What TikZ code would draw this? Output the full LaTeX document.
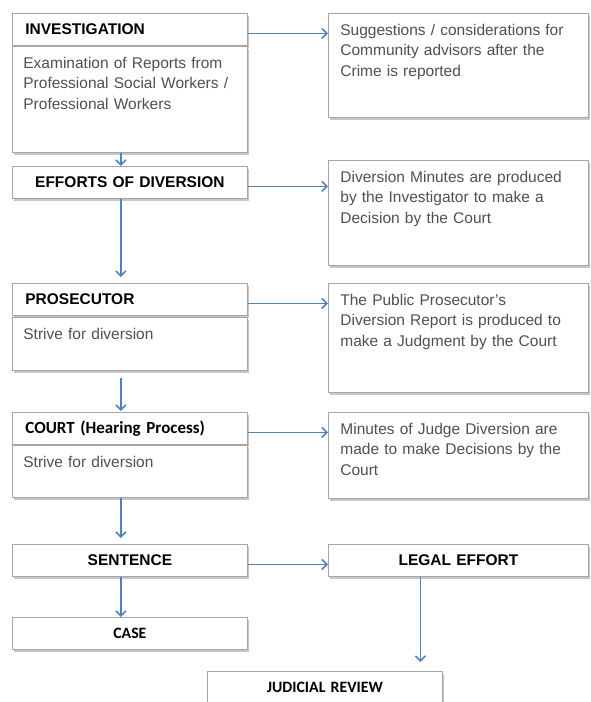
\documentclass[tikz,border=0pt]{standalone}
\usepackage{fontspec}
\setmainfont{Liberation Sans}
\newfontfamily\calibri{Carlito}
\usetikzlibrary{calc,shadows,arrows.meta}

\definecolor{flowblue}{HTML}{4F81BD}
\definecolor{boxgrey}{HTML}{A6A6A6}
\definecolor{textgrey}{HTML}{505050}

\begin{document}
\begin{tikzpicture}[x=1pt,y=-1pt,
    every node/.style={draw=boxgrey,fill=white,line width=0.8pt,anchor=north west,
      drop shadow={shadow xshift=2pt,shadow yshift=-2.5pt,opacity=0.45},
      font=\fontsize{15.5}{20.5}\selectfont},
    head/.style={text width=209pt,inner xsep=13pt,inner ysep=0pt,minimum height=32pt,
      align=left,font=\fontsize{15.5}{17}\selectfont\bfseries},
    headc/.style={head,align=center},
    smallhead/.style={headc,font=\fontsize{15.8}{17}\selectfont\calibri\bfseries},
    body/.style={text width=213pt,inner xsep=11pt,inner ysep=11pt,text height=11pt,
      text depth=#1,align=left,text=textgrey},
    note/.style={body=#1,text width=236pt,inner xsep=12pt},
    link/.style={draw=flowblue,line width=1.6pt,-{Straight Barb[length=5pt,width=10pt]}}]
  \useasboundingbox (0,0) rectangle (590,702);

  % left column
  \node[head] (investigation) at (12,13) {INVESTIGATION};
  \node[body=73pt] (examination) at (12,46) {Examination of Reports from\\Professional Social Workers /\\Professional Workers};
  \node[headc] (efforts) at (12,166) {EFFORTS OF DIVERSION};
  \node[head] (prosecutor) at (12,283) {PROSECUTOR};
  \node[body=20pt] (prosstrive) at (12,317) {Strive for diversion};
  \node[head,font=\fontsize{17}{18}\selectfont\calibri\bfseries] (court) at (12,412) {COURT (Hearing Process)};
  \node[body=19pt] (courtstrive) at (12,445) {Strive for diversion};
  \node[headc] (sentence) at (12,544) {SENTENCE};
  \node[smallhead] (case) at (12,617) {CASE};

  % right column
  \node[note=71pt] (suggestions) at (328,13) {Suggestions / considerations for\\Community advisors after the\\Crime is reported};
  \node[note=72pt] (minutes) at (328,160) {Diversion Minutes are produced\\by the Investigator to make a\\Decision by the Court};
  \node[note=76pt] (report) at (328,283) {The Public Prosecutor's\\Diversion Report is produced to\\make a Judgment by the Court};
  \node[note=53pt] (judge) at (328,412) {Minutes of Judge Diversion are\\made to make Decisions by the\\Court};
  \node[headc,text width=234pt] (legal) at (328,544) {LEGAL EFFORT};
  \node[smallhead] (review) at (207,671) {JUDICIAL REVIEW};

  % links
  \draw[link] ([yshift=-4pt]investigation.east) -- ([yshift=-4pt]investigation.east -| suggestions.west);
  \draw[link] ([yshift=-4pt]efforts.east) -- ([yshift=-4pt]efforts.east -| minutes.west);
  \draw[link] ([yshift=-4pt]prosecutor.east) -- ([yshift=-4pt]prosecutor.east -| report.west);
  \draw[link] ([yshift=-4pt]court.east) -- ([yshift=-4pt]court.east -| judge.west);
  \draw[link] ([yshift=-4pt]sentence.east) -- ([yshift=-4pt]sentence.east -| legal.west);

  \draw[link] ($(examination.south)+(-9,0)$) -- ($(efforts.north)+(-9,0)$);
  \draw[link] ($(efforts.south)+(-9,0)$) -- ($(prosecutor.north)+(-9,-6)$);
  \draw[link] ($(prosstrive.south)+(-9,7)$) -- ($(court.north)+(-9,-1)$);
  \draw[link] ($(courtstrive.south)+(-9,0)$) -- ($(sentence.north)+(-9,-6)$);
  \draw[link] ($(sentence.south)+(-9,0)$) -- ($(case.north)+(-9,0)$);
  \coordinate (legaldrop) at ($(legal.south)+(-38,0)$);
  \draw[link] (legaldrop) -- ($(legaldrop |- review.north)+(0,-9)$);
\end{tikzpicture}
\end{document}
